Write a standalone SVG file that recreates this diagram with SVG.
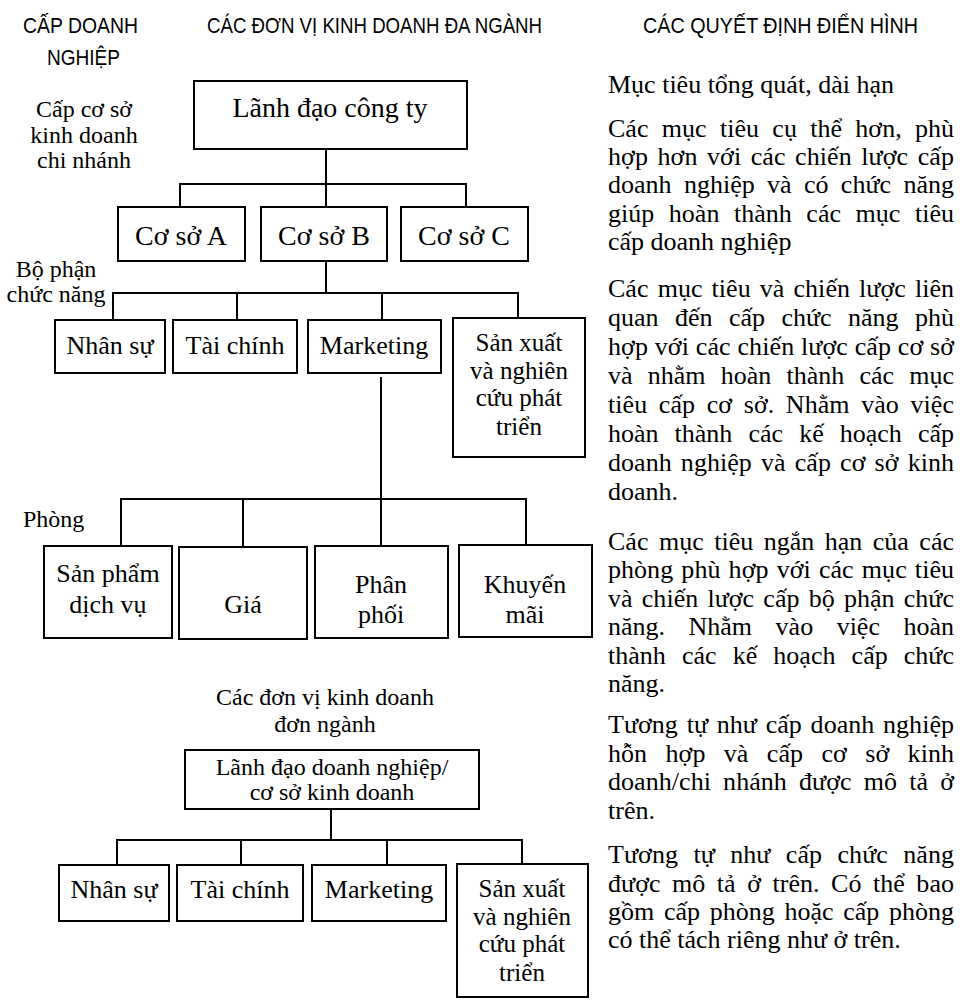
<svg xmlns="http://www.w3.org/2000/svg" width="960" height="1001" viewBox="0 0 960 1001">
  <style>
    .bg { fill: #ffffff; }
    .box { fill: #ffffff; stroke: #000000; stroke-width: 2; }
    .wire { fill: none; stroke: #000000; stroke-width: 2; }
    .hdr { font-family: "Liberation Sans", Arial, sans-serif; font-size: 22px; fill: #000; }
    .lbl { font-family: "Liberation Serif", "Times New Roman", serif; font-size: 26px; fill: #000; text-anchor: middle; }
    .big { font-size: 28px; }
    .stack { font-size: 25px; }
    .side { font-family: "Liberation Serif", "Times New Roman", serif; font-size: 24px; fill: #000; }
    .mid { text-anchor: middle; }
    .note { font-family: "Liberation Serif", "Times New Roman", serif; font-size: 26px; fill: #000; }
  </style>

  <rect class="bg" x="0" y="0" width="960" height="1001"/>

  <!-- column headings -->
  <g id="headings">
    <text class="hdr" x="23" y="33" textLength="115" lengthAdjust="spacingAndGlyphs">CẤP DOANH</text>
    <text class="hdr" x="47" y="65" textLength="73" lengthAdjust="spacingAndGlyphs">NGHIỆP</text>
    <text class="hdr" x="207" y="33" textLength="335" lengthAdjust="spacingAndGlyphs">CÁC ĐƠN VỊ KINH DOANH ĐA NGÀNH</text>
    <text class="hdr" x="643" y="33" textLength="275" lengthAdjust="spacingAndGlyphs">CÁC QUYẾT ĐỊNH ĐIỂN HÌNH</text>
  </g>

  <!-- level captions on the left -->
  <g id="level-captions">
    <text class="side mid" x="84" y="117">Cấp cơ sở</text>
    <text class="side mid" x="84" y="143">kinh doanh</text>
    <text class="side mid" x="84" y="168">chi nhánh</text>
    <text class="side mid" x="56" y="277">Bộ phận</text>
    <text class="side mid" x="56" y="302">chức năng</text>
    <text class="side" x="23" y="527">Phòng</text>
    <text class="side mid" x="325" y="705">Các đơn vị kinh doanh</text>
    <text class="side mid" x="325" y="732">đơn ngành</text>
  </g>

  <!-- connectors -->
  <g id="connectors">
    <!-- company head to units -->
    <path class="wire" d="M326 149 V184 M180 207 V184 H466 V207 M326 184 V207"/>
    <!-- unit B to functional departments -->
    <path class="wire" d="M326 261 V293 M113 320 V293 H518 V318 M237 293 V320 M382 293 V320"/>
    <!-- marketing to sections -->
    <path class="wire" d="M381 377 V546 M121 546 V499 H526 V545 M243 499 V547"/>
    <!-- single-business head to departments -->
    <path class="wire" d="M331 809 V840 M117 865 V840 H522 V864 M241 840 V865 M387 840 V865"/>
  </g>

  <!-- multi-business tree -->
  <g id="node-company">
    <rect class="box" x="194" y="81" width="273" height="68"/>
    <text class="lbl big" x="330" y="117">Lãnh đạo công ty</text>
  </g>
  <g id="node-unit-a">
    <rect class="box" x="118" y="207" width="127" height="54"/>
    <text class="lbl big" x="181" y="245">Cơ sở A</text>
  </g>
  <g id="node-unit-b">
    <rect class="box" x="261" y="207" width="126" height="54"/>
    <text class="lbl big" x="324" y="245">Cơ sở B</text>
  </g>
  <g id="node-unit-c">
    <rect class="box" x="401" y="207" width="127" height="54"/>
    <text class="lbl big" x="464" y="245">Cơ sở C</text>
  </g>

  <g id="node-hr">
    <rect class="box" x="55" y="320" width="110" height="53"/>
    <text class="lbl" x="110" y="354">Nhân sự</text>
  </g>
  <g id="node-finance">
    <rect class="box" x="173" y="320" width="124" height="53"/>
    <text class="lbl" x="235" y="354">Tài chính</text>
  </g>
  <g id="node-marketing">
    <rect class="box" x="308" y="320" width="133" height="53"/>
    <text class="lbl" x="374" y="354">Marketing</text>
  </g>
  <g id="node-rnd">
    <rect class="box" x="453" y="318" width="132" height="139"/>
    <text class="lbl stack" x="519" y="351">Sản xuất</text>
    <text class="lbl stack" x="519" y="378.7">và nghiên</text>
    <text class="lbl stack" x="519" y="406.4">cứu phát</text>
    <text class="lbl stack" x="519" y="435">triển</text>
  </g>

  <g id="node-product">
    <rect class="box" x="44" y="546" width="128" height="92"/>
    <text class="lbl" x="108" y="582">Sản phẩm</text>
    <text class="lbl" x="108" y="613">dịch vụ</text>
  </g>
  <g id="node-price">
    <rect class="box" x="179" y="547" width="128" height="92"/>
    <text class="lbl" x="243" y="613">Giá</text>
  </g>
  <g id="node-distribution">
    <rect class="box" x="315" y="546" width="133" height="92"/>
    <text class="lbl" x="381" y="593">Phân</text>
    <text class="lbl" x="381" y="623">phối</text>
  </g>
  <g id="node-promotion">
    <rect class="box" x="459" y="545" width="133" height="92"/>
    <text class="lbl" x="525" y="593">Khuyến</text>
    <text class="lbl" x="525" y="623">mãi</text>
  </g>

  <!-- single-business tree -->
  <g id="node-business-head">
    <rect class="box" x="185" y="750" width="294" height="59"/>
    <text class="side mid" x="332" y="775">Lãnh đạo doanh nghiệp/</text>
    <text class="side mid" x="332" y="800">cơ sở kinh doanh</text>
  </g>
  <g id="node-hr-2">
    <rect class="box" x="59" y="865" width="110" height="56"/>
    <text class="lbl" x="114" y="898">Nhân sự</text>
  </g>
  <g id="node-finance-2">
    <rect class="box" x="177" y="865" width="126" height="56"/>
    <text class="lbl" x="240" y="898">Tài chính</text>
  </g>
  <g id="node-marketing-2">
    <rect class="box" x="312" y="865" width="134" height="56"/>
    <text class="lbl" x="379" y="898">Marketing</text>
  </g>
  <g id="node-rnd-2">
    <rect class="box" x="457" y="864" width="131" height="133"/>
    <text class="lbl stack" x="522" y="897">Sản xuất</text>
    <text class="lbl stack" x="522" y="924.7">và nghiên</text>
    <text class="lbl stack" x="522" y="952.4">cứu phát</text>
    <text class="lbl stack" x="522" y="981">triển</text>
  </g>

  <!-- typical decisions column (justified lines) -->
  <g id="decisions">
    <text class="note" x="608" y="93">Mục tiêu tổng quát, dài hạn</text>

    <text class="note" x="608" y="137" word-spacing="6.8" textLength="346" lengthAdjust="spacing">Các mục tiêu cụ thể hơn, phù</text>
    <text class="note" x="608" y="165" word-spacing="2.9" textLength="346" lengthAdjust="spacing">hợp hơn với các chiến lược cấp</text>
    <text class="note" x="608" y="193" word-spacing="5.8" textLength="346" lengthAdjust="spacing">doanh nghiệp và có chức năng</text>
    <text class="note" x="608" y="222" word-spacing="8.1" textLength="346" lengthAdjust="spacing">giúp hoàn thành các mục tiêu</text>
    <text class="note" x="608" y="250">cấp doanh nghiệp</text>

    <text class="note" x="608" y="297" word-spacing="2.6" textLength="346" lengthAdjust="spacing">Các mục tiêu và chiến lược liên</text>
    <text class="note" x="608" y="326" word-spacing="9.9" textLength="346" lengthAdjust="spacing">quan đến cấp chức năng phù</text>
    <text class="note" x="608" y="355" word-spacing="0.1" textLength="346" lengthAdjust="spacing">hợp với các chiến lược cấp cơ sở</text>
    <text class="note" x="608" y="384" word-spacing="8.7" textLength="346" lengthAdjust="spacing">và nhằm hoàn thành các mục</text>
    <text class="note" x="608" y="413" word-spacing="5.1" textLength="346" lengthAdjust="spacing">tiêu cấp cơ sở. Nhằm vào việc</text>
    <text class="note" x="608" y="442" word-spacing="9.6" textLength="346" lengthAdjust="spacing">hoàn thành các kế hoạch cấp</text>
    <text class="note" x="608" y="471" word-spacing="2.6" textLength="346" lengthAdjust="spacing">doanh nghiệp và cấp cơ sở kinh</text>
    <text class="note" x="608" y="500">doanh.</text>

    <text class="note" x="608" y="550" word-spacing="4" textLength="346" lengthAdjust="spacing">Các mục tiêu ngắn hạn của các</text>
    <text class="note" x="608" y="578" word-spacing="1.6" textLength="346" lengthAdjust="spacing">phòng phù hợp với các mục tiêu</text>
    <text class="note" x="608" y="607" word-spacing="2.6" textLength="346" lengthAdjust="spacing">và chiến lược cấp bộ phận chức</text>
    <text class="note" x="608" y="635" word-spacing="17" textLength="346" lengthAdjust="spacing">năng. Nhằm vào việc hoàn</text>
    <text class="note" x="608" y="664" word-spacing="9.6" textLength="346" lengthAdjust="spacing">thành các kế hoạch cấp chức</text>
    <text class="note" x="608" y="692">năng.</text>

    <text class="note" x="608" y="733" word-spacing="2.2" textLength="346" lengthAdjust="spacing">Tương tự như cấp doanh nghiệp</text>
    <text class="note" x="608" y="762" word-spacing="11.8" textLength="346" lengthAdjust="spacing">hỗn hợp và cấp cơ sở kinh</text>
    <text class="note" x="608" y="790" word-spacing="5.6" textLength="346" lengthAdjust="spacing">doanh/chi nhánh được mô tả ở</text>
    <text class="note" x="608" y="819">trên.</text>

    <text class="note" x="608" y="863" word-spacing="8.8" textLength="346" lengthAdjust="spacing">Tương tự như cấp chức năng</text>
    <text class="note" x="608" y="892" word-spacing="4.9" textLength="346" lengthAdjust="spacing">được mô tả ở trên. Có thể bao</text>
    <text class="note" x="608" y="920" word-spacing="3.2" textLength="346" lengthAdjust="spacing">gồm cấp phòng hoặc cấp phòng</text>
    <text class="note" x="608" y="948">có thể tách riêng như ở trên.</text>
  </g>
</svg>
